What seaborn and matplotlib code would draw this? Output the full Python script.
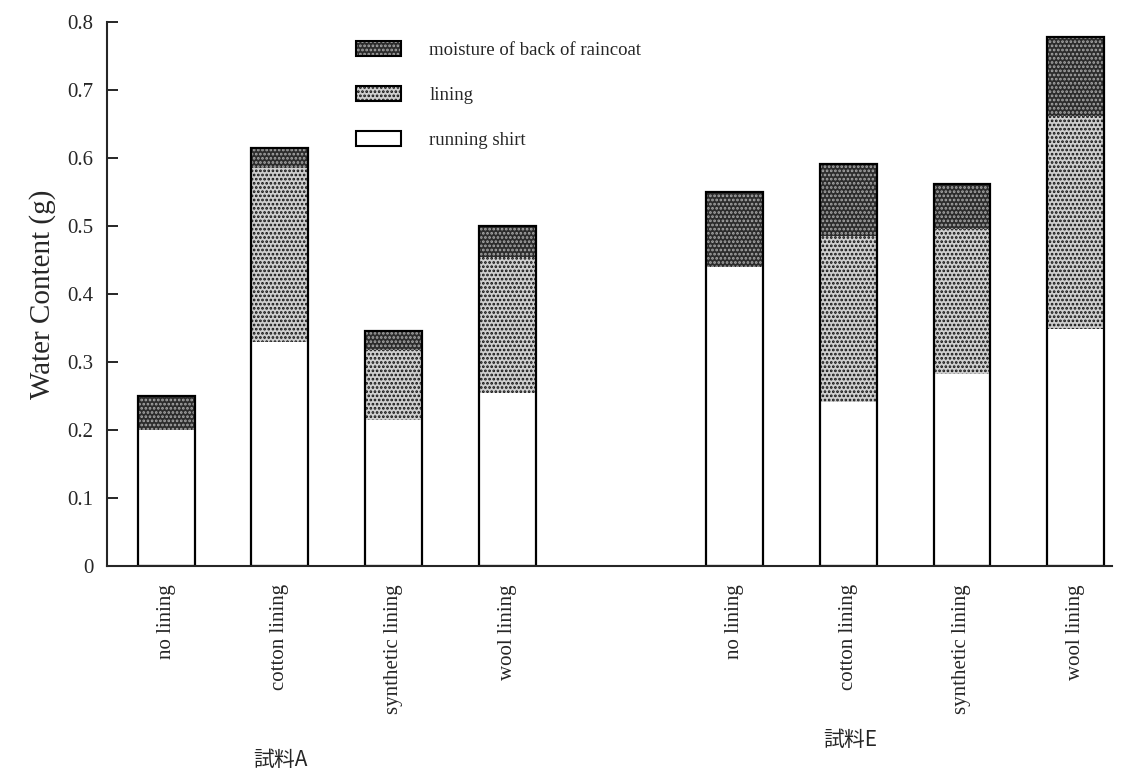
import matplotlib
matplotlib.use("Agg")
import matplotlib.pyplot as plt
import seaborn as sns
import pandas as pd
from matplotlib.patches import Patch
from matplotlib.legend_handler import HandlerTuple

# ---- data ----
conditions = ["no lining", "cotton lining", "synthetic lining", "wool lining"]
samples = ["試料A", "試料E"]
shirt_A = [0.200, 0.330, 0.215, 0.255]
lining_A = [0.000, 0.255, 0.103, 0.200]
moist_A = [0.050, 0.030, 0.027, 0.045]
shirt_E = [0.440, 0.242, 0.283, 0.348]
lining_E = [0.000, 0.243, 0.212, 0.313]
moist_E = [0.110, 0.106, 0.067, 0.117]
legend_labels = ["moisture of back of raincoat", "lining", "running shirt"]
yticks = [0, 0.1, 0.2, 0.3, 0.4, 0.5, 0.6, 0.7, 0.8]
ytick_labels = ["0", "0.1", "0.2", "0.3", "0.4", "0.5", "0.6", "0.7", "0.8"]

sns.set_style("ticks")
plt.rcParams["font.family"] = ["Liberation Serif", "Noto Sans CJK JP", "DejaVu Sans"]
plt.rcParams["hatch.linewidth"] = 1.3

rows = []
for g, (sh, li, mo) in enumerate([(shirt_A, lining_A, moist_A), (shirt_E, lining_E, moist_E)]):
    for i, c in enumerate(conditions):
        rows.append({"pos": g * 5 + i, "cond": c, "sample": samples[g],
                     "shirt": sh[i], "lining_top": sh[i] + li[i],
                     "total": sh[i] + li[i] + mo[i]})
df = pd.DataFrame(rows)

fig = plt.figure(figsize=(11.21, 7.82), dpi=100)
ax = fig.add_axes([0.0955, 0.276, 0.8965, 0.696])

moist_face, moist_hatch, moist_pat = "#2c2c2c", "#a8a8a8", "...."
lin_face, lin_hatch, lin_pat = "#cfcfcf", "#111111", "...."

sns.barplot(data=df, x="pos", y="total", native_scale=True, width=0.5,
            color=moist_face, saturation=1, errorbar=None, ax=ax,
            edgecolor=moist_hatch, hatch=moist_pat, linewidth=0)
sns.barplot(data=df, x="pos", y="lining_top", native_scale=True, width=0.5,
            color=lin_face, saturation=1, errorbar=None, ax=ax,
            edgecolor=lin_hatch, hatch=lin_pat, linewidth=0)
sns.barplot(data=df, x="pos", y="shirt", native_scale=True, width=0.5,
            color="white", saturation=1, errorbar=None, ax=ax, linewidth=0)
sns.barplot(data=df, x="pos", y="total", native_scale=True, width=0.5,
            color="black", fill=False, errorbar=None, ax=ax, linewidth=1.6)

ax.set_ylim(0, 0.8)
ax.set_xlim(-0.52, 8.32)
ax.set_yticks(yticks, ytick_labels, fontsize=15)
ax.set_xticks(df["pos"], df["cond"], rotation=90, fontsize=15)
ax.tick_params(axis="y", direction="in", length=8, width=1.4, pad=10)
ax.tick_params(axis="x", length=0, pad=13)
for lab in ax.get_xticklabels():
    lab.set_va("top")
sns.despine(ax=ax)
ax.spines["left"].set_linewidth(1.5)
ax.spines["bottom"].set_linewidth(1.5)
ax.set_xlabel("")
ax.set_ylabel("Water Content (g)", fontsize=21, labelpad=8)

outline = Patch(facecolor="none", edgecolor="black", linewidth=1.5)
handles = [
    (Patch(facecolor=moist_face, edgecolor=moist_hatch, hatch=moist_pat, linewidth=0), outline),
    (Patch(facecolor=lin_face, edgecolor=lin_hatch, hatch=lin_pat, linewidth=0), outline),
    Patch(facecolor="white", edgecolor="black", linewidth=1.5),
]
leg = ax.legend(handles, legend_labels, loc="upper left", bbox_to_anchor=(0.231, 0.995),
                frameon=False, fontsize=13.5, handlelength=2.4, handleheight=0.8,
                labelspacing=1.45, handletextpad=1.5,
                handler_map={tuple: HandlerTuple(ndivide=1, pad=0)})

fig.text(280 / 1121, 1 - 760 / 782, samples[0], fontsize=15, ha="center", va="center",
         family=["Noto Sans CJK JP"])
fig.text(850 / 1121, 1 - 740 / 782, samples[1], fontsize=15, ha="center", va="center",
         family=["Noto Sans CJK JP"])

fig.savefig("out.png", dpi=100)
